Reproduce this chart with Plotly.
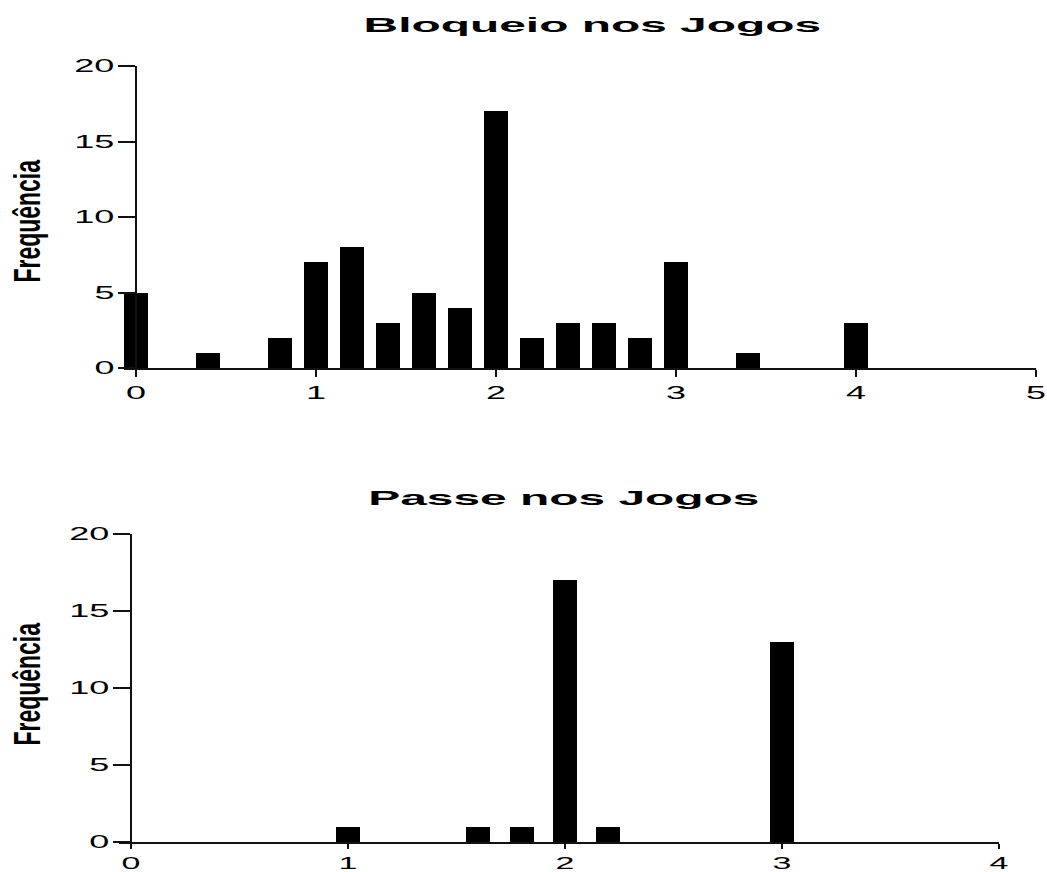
import plotly.graph_objects as go

# ---- data ----
bloqueio_x = [0.0, 0.4, 0.8, 1.0, 1.2, 1.4, 1.6, 1.8, 2.0, 2.2, 2.4, 2.6, 2.8, 3.0, 3.4, 4.0]
bloqueio_y = [5, 1, 2, 7, 8, 3, 5, 4, 17, 2, 3, 3, 2, 7, 1, 3]
passe_x = [1.0, 1.6, 1.8, 2.0, 2.2, 3.0]
passe_y = [1, 1, 1, 17, 1, 13]
top_title = "Bloqueio nos Jogos"
bottom_title = "Passe nos Jogos"
y_label = "Frequência"
y_ticks = [0, 5, 10, 15, 20]
top_x_ticks = [0, 1, 2, 3, 4, 5]
bottom_x_ticks = [0, 1, 2, 3, 4]

W, H = 1047, 872

def fy(p):
    return 1 - p / H

def fx(p):
    return p / W

tick_font = dict(family="Liberation Sans, Arial, Helvetica, sans-serif", size=18, color="black")
title_font = dict(family="Liberation Sans, Arial, Helvetica, sans-serif", size=21, color="black", weight="bold")
label_font = dict(family="Liberation Sans, Arial, sans-serif", size=37, color="black", weight="bold")

fig = go.Figure()
fig.add_trace(go.Bar(x=bloqueio_x, y=bloqueio_y, width=0.133, marker=dict(color="black", line=dict(width=0)),
                     xaxis="x", yaxis="y", showlegend=False))
fig.add_trace(go.Bar(x=passe_x, y=passe_y, width=0.11, marker=dict(color="black", line=dict(width=0)),
                     xaxis="x2", yaxis="y2", showlegend=False))

top_xr = [-0.067, 5.0]
top_xd = [fx(124), fx(1036)]
top_ypos = top_xd[0] + (0 - top_xr[0]) / (top_xr[1] - top_xr[0]) * (top_xd[1] - top_xd[0])
bot_xr = [-0.055, 4.0]
bot_xd = [fx(119), fx(999)]
bot_ypos = bot_xd[0] + (0 - bot_xr[0]) / (bot_xr[1] - bot_xr[0]) * (bot_xd[1] - bot_xd[0])

common_x = dict(showgrid=False, zeroline=False, showline=True, linecolor="#111", linewidth=2,
                ticks="outside", ticklen=7, tickwidth=2, tickcolor="#111", tickfont=tick_font,
                automargin=False, fixedrange=True)
common_y = dict(showgrid=False, zeroline=False, showline=True, linecolor="#111", linewidth=2,
                ticks="outside", ticklen=17, tickwidth=2, tickcolor="#111", tickfont=tick_font,
                automargin=False, range=[0, 20], tickvals=y_ticks, anchor="free")

fig.update_layout(
    width=W, height=H, template="none",
    margin=dict(l=0, r=0, t=0, b=0),
    paper_bgcolor="white", plot_bgcolor="white",
    bargap=0,
    xaxis=dict(common_x, domain=top_xd, range=top_xr, tickvals=top_x_ticks, anchor="y"),
    yaxis=dict(common_y, domain=[fy(368), fy(66)], position=top_ypos),
    xaxis2=dict(common_x, domain=bot_xd, range=bot_xr, tickvals=bottom_x_ticks, anchor="y2", ticklen=5,
                tickfont=dict(tick_font, size=17)),
    yaxis2=dict(common_y, domain=[fy(842), fy(534)], position=bot_ypos),
    annotations=[
        dict(text=top_title, x=fx(592), y=fy(24), xref="paper", yref="paper", showarrow=False,
             font=title_font, xanchor="center", yanchor="middle"),
        dict(text=bottom_title, x=fx(564), y=fy(497), xref="paper", yref="paper", showarrow=False,
             font=title_font, xanchor="center", yanchor="middle"),
        dict(text=y_label, x=fx(27), y=fy(221), xref="paper", yref="paper", showarrow=False,
             font=label_font, textangle=-90, xanchor="center", yanchor="middle"),
        dict(text=y_label, x=fx(27), y=fy(684), xref="paper", yref="paper", showarrow=False,
             font=label_font, textangle=-90, xanchor="center", yanchor="middle"),
    ],
)

# horizontal stretch / compression of the text glyphs, as in the reference lettering
post_js = """
var gd = document.getElementById('{plot_id}');
function stretchEl(t, k) {
  var w = t.getComputedTextLength();
  if (w > 0) { t.setAttribute('textLength', (w * k).toFixed(1)); t.setAttribute('lengthAdjust', 'spacingAndGlyphs'); }
}
function applyStretch() {
  gd.querySelectorAll('.xaxislayer-above text, .yaxislayer-above text').forEach(function (t) { stretchEl(t, 2.0); });
  gd.querySelectorAll('.annotation-text').forEach(function (t) {
    var s = t.textContent;
    if (s.indexOf('Jogos') >= 0) { stretchEl(t, 2.28); } else { stretchEl(t, 0.62); }
  });
}
applyStretch();
"""

fig.write_html("out.html", post_script=post_js)
